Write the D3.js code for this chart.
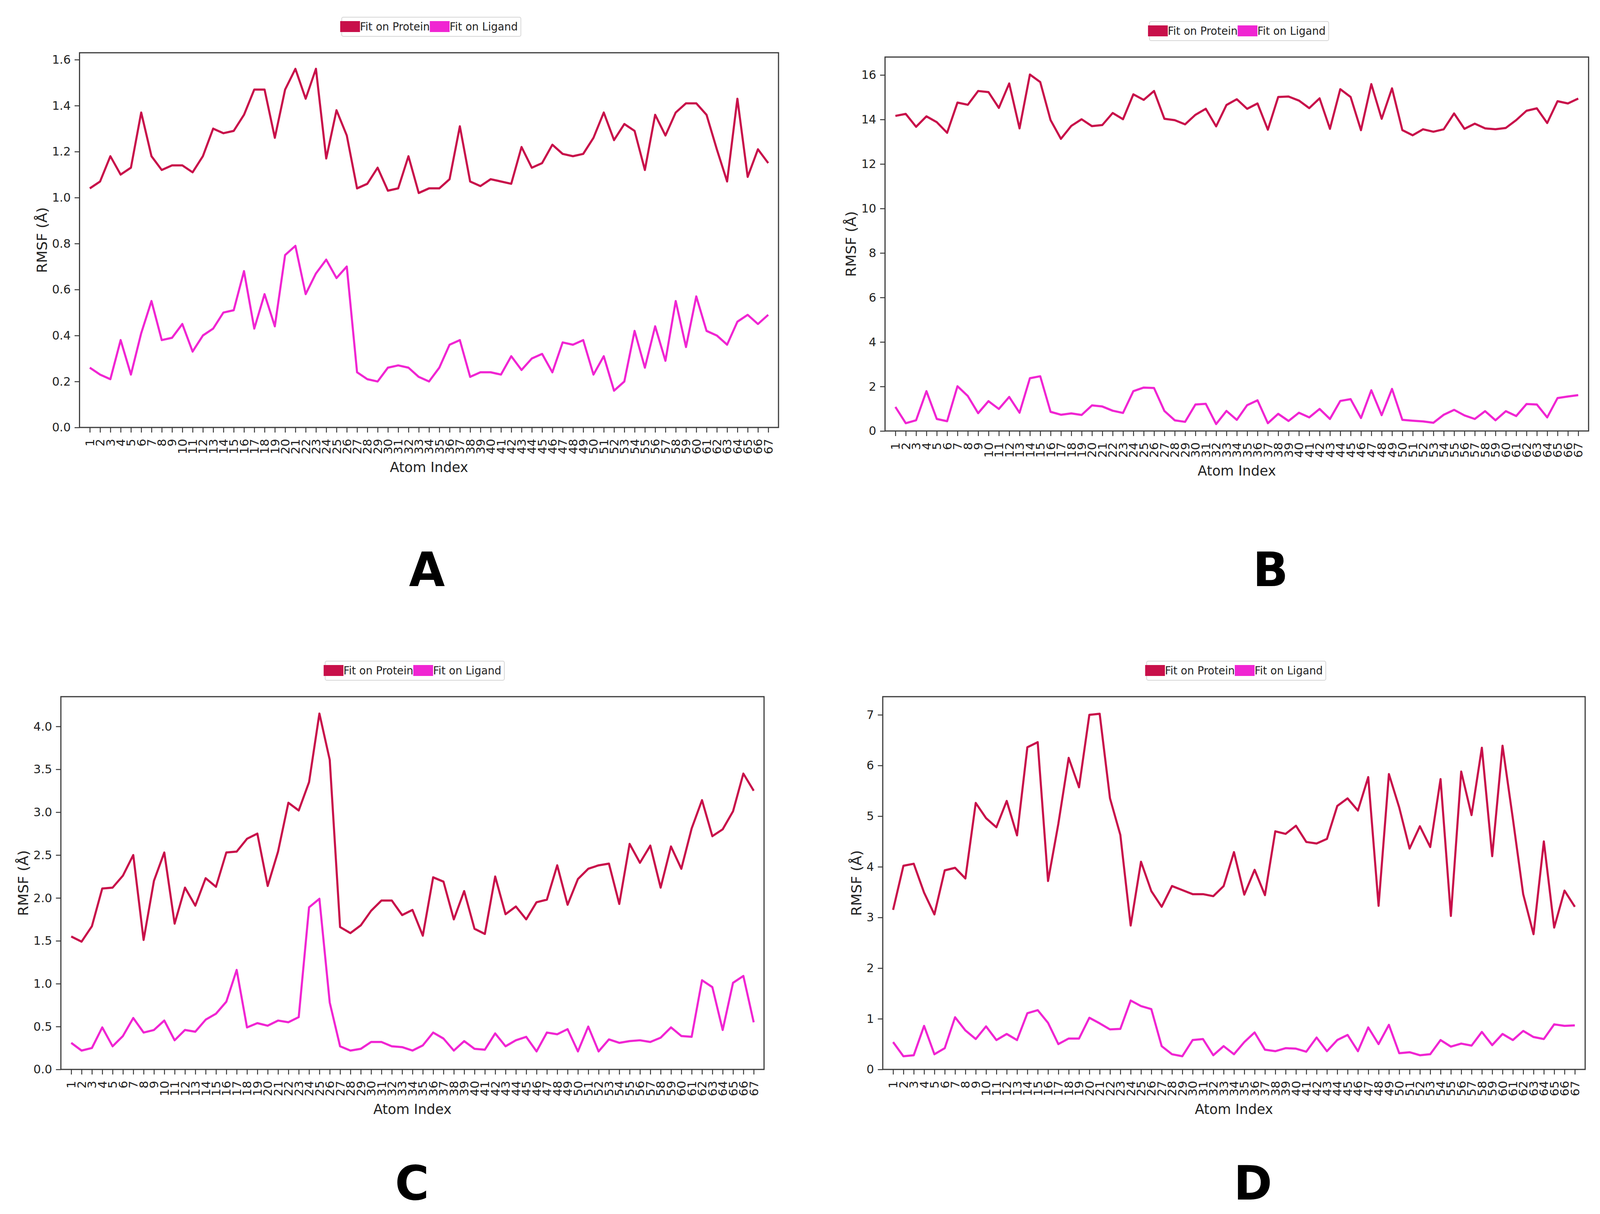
<!DOCTYPE html>
<html>
<head>
<meta charset="utf-8">
<script src="https://cdn.jsdelivr.net/npm/d3@7/dist/d3.min.js"></script>
<style>
  html, body { margin: 0; padding: 0; background: #fff; overflow: hidden; }
  #chart { display: block; width: 100vw; height: 100vh; }
  text { font-family: "DejaVu Sans", sans-serif; fill: #222; }
</style>
</head>
<body>
<svg id="chart"></svg>
<script>
const w = 4205, h = 3107;

const atomIndex = [1,2,3,4,5,6,7,8,9,10,11,12,13,14,15,16,17,18,19,20,21,22,23,24,25,26,27,28,29,30,
  31,32,33,34,35,36,37,38,39,40,41,42,43,44,45,46,47,48,49,50,51,52,53,54,55,56,57,58,59,60,
  61,62,63,64,65,66,67];

const seriesNames = ["Fit on Protein", "Fit on Ligand"];
const seriesColors = ["#C8104A", "#F025D2"];

// panel A
const proteinA = [1.04,1.07,1.18,1.10,1.13,1.37,1.18,1.12,1.14,1.14,1.11,1.18,1.30,1.28,1.29,1.36,1.47,1.47,1.26,1.47,
  1.56,1.43,1.56,1.17,1.38,1.27,1.04,1.06,1.13,1.03,1.04,1.18,1.02,1.04,1.04,1.08,1.31,1.07,1.05,1.08,
  1.07,1.06,1.22,1.13,1.15,1.23,1.19,1.18,1.19,1.26,1.37,1.25,1.32,1.29,1.12,1.36,1.27,1.37,1.41,1.41,
  1.36,1.21,1.07,1.43,1.09,1.21,1.15];
const ligandA = [0.26,0.23,0.21,0.38,0.23,0.41,0.55,0.38,0.39,0.45,0.33,0.40,0.43,0.50,0.51,0.68,0.43,0.58,0.44,0.75,
  0.79,0.58,0.67,0.73,0.65,0.70,0.24,0.21,0.20,0.26,0.27,0.26,0.22,0.20,0.26,0.36,0.38,0.22,0.24,0.24,
  0.23,0.31,0.25,0.30,0.32,0.24,0.37,0.36,0.38,0.23,0.31,0.16,0.20,0.42,0.26,0.44,0.29,0.55,0.35,0.57,
  0.42,0.40,0.36,0.46,0.49,0.45,0.49];
const yTicksA = [0, 0.2, 0.4, 0.6, 0.8, 1.0, 1.2, 1.4, 1.6];

// panel B
const proteinB = [14.16,14.25,13.67,14.14,13.88,13.40,14.76,14.66,15.28,15.23,14.52,15.62,13.60,16.02,15.68,13.97,13.13,13.71,14.01,13.70,
  13.75,14.29,14.01,15.13,14.88,15.28,14.03,13.97,13.78,14.21,14.48,13.69,14.65,14.91,14.48,14.72,13.54,15.01,15.03,14.85,
  14.51,14.95,13.58,15.36,15.01,13.52,15.59,14.03,15.40,13.52,13.29,13.56,13.45,13.56,14.27,13.58,13.81,13.60,13.56,13.62,
  13.97,14.39,14.50,13.84,14.82,14.72,14.94];
const ligandB = [1.08,0.35,0.48,1.79,0.54,0.44,2.01,1.57,0.80,1.34,0.99,1.53,0.82,2.37,2.46,0.86,0.73,0.79,0.72,1.15,
  1.10,0.91,0.81,1.79,1.95,1.93,0.90,0.48,0.41,1.19,1.22,0.31,0.90,0.50,1.16,1.38,0.35,0.77,0.45,0.82,
  0.61,0.99,0.54,1.35,1.43,0.58,1.83,0.71,1.89,0.50,0.46,0.43,0.37,0.73,0.95,0.70,0.54,0.89,0.48,0.89,
  0.67,1.21,1.19,0.61,1.48,1.55,1.61];
const yTicksB = [0, 2, 4, 6, 8, 10, 12, 14, 16];

// panel C
const proteinC = [1.55,1.49,1.67,2.11,2.12,2.26,2.50,1.51,2.20,2.53,1.70,2.12,1.91,2.23,2.13,2.53,2.54,2.69,2.75,2.14,
  2.54,3.11,3.02,3.35,4.15,3.61,1.66,1.59,1.68,1.85,1.97,1.97,1.80,1.86,1.56,2.24,2.19,1.75,2.08,1.64,
  1.58,2.25,1.81,1.90,1.75,1.95,1.98,2.38,1.92,2.22,2.34,2.38,2.40,1.93,2.63,2.41,2.61,2.12,2.60,2.34,
  2.81,3.14,2.72,2.80,3.01,3.45,3.25];
const ligandC = [0.31,0.22,0.25,0.49,0.27,0.39,0.60,0.43,0.46,0.57,0.34,0.46,0.44,0.58,0.65,0.79,1.16,0.49,0.54,0.51,
  0.57,0.55,0.61,1.89,1.99,0.78,0.27,0.22,0.24,0.32,0.32,0.27,0.26,0.22,0.28,0.43,0.36,0.22,0.33,0.24,
  0.23,0.42,0.27,0.34,0.38,0.21,0.43,0.41,0.47,0.21,0.50,0.21,0.35,0.31,0.33,0.34,0.32,0.37,0.49,0.39,
  0.38,1.04,0.96,0.46,1.01,1.09,0.55];
const yTicksC = [0, 0.5, 1.0, 1.5, 2.0, 2.5, 3.0, 3.5, 4.0];

// panel D
const proteinD = [3.15,4.02,4.06,3.49,3.06,3.93,3.98,3.77,5.26,4.96,4.78,5.30,4.62,6.36,6.46,3.72,4.85,6.15,5.57,7.00,
  7.02,5.35,4.63,2.84,4.10,3.52,3.21,3.62,3.54,3.46,3.46,3.42,3.62,4.29,3.45,3.94,3.44,4.70,4.65,4.81,
  4.49,4.46,4.55,5.20,5.35,5.11,5.77,3.23,5.83,5.17,4.36,4.80,4.39,5.73,3.03,5.88,5.02,6.35,4.21,6.39,
  4.95,3.46,2.67,4.50,2.80,3.53,3.21];
const ligandD = [0.54,0.26,0.28,0.86,0.30,0.42,1.03,0.77,0.60,0.85,0.58,0.70,0.58,1.11,1.17,0.92,0.50,0.61,0.61,1.02,
  0.91,0.79,0.80,1.36,1.25,1.19,0.46,0.30,0.26,0.58,0.60,0.28,0.46,0.30,0.54,0.73,0.39,0.36,0.42,0.41,
  0.35,0.63,0.36,0.58,0.68,0.36,0.83,0.50,0.88,0.32,0.34,0.28,0.30,0.58,0.45,0.51,0.47,0.74,0.48,0.70,
  0.58,0.76,0.64,0.60,0.89,0.86,0.87];
const yTicksD = [0, 1, 2, 3, 4, 5, 6, 7];

const panels = [
  { label: "A", series: [proteinA, ligandA], yTicks: yTicksA, fmt: d3.format(".1f"),
    box: { l: 209, r: 2046, t: 135, b: 1094 }, letter: [1122, 1500] },
  { label: "B", series: [proteinB, ligandB], yTicks: yTicksB, fmt: d3.format("d"),
    box: { l: 2326, r: 4175, t: 146, b: 1103 }, letter: [3339, 1500] },
  { label: "C", series: [proteinC, ligandC], yTicks: yTicksC, fmt: d3.format(".1f"),
    box: { l: 160, r: 2008, t: 1783, b: 2737 }, letter: [1083, 3070] },
  { label: "D", series: [proteinD, ligandD], yTicks: yTicksD, fmt: d3.format("d"),
    box: { l: 2320, r: 4166, t: 1783, b: 2737 }, letter: [3293, 3070] }
];

// stretch the drawing to whatever viewport the page gets
const svg = d3.select("#chart")
  .attr("viewBox", [0, 0, w, h])
  .attr("preserveAspectRatio", "none");

svg.append("rect").attr("width", w).attr("height", h).attr("fill", "#fff");

const tickLen = 13, frameColor = "#3a3a3a";

const buildPanel = p => {
  const { l, r, t, b } = p.box;
  const all = p.series.flat();
  const lo = d3.min(all), hi = d3.max(all);

  const x = d3.scaleLinear().domain([0, atomIndex.length + 1]).range([l, r]);
  const y = d3.scaleLinear().domain([0, hi + 0.05 * (hi - lo)]).range([b, t]);

  const g = svg.append("g").attr("class", "panel-" + p.label);

  // lines
  const line = d3.line().x((d, i) => x(atomIndex[i])).y(d => y(d));
  p.series.forEach((s, k) => {
    g.append("path")
      .datum(s)
      .attr("d", line)
      .attr("fill", "none")
      .attr("stroke", seriesColors[k])
      .attr("stroke-width", 5.5)
      .attr("stroke-linejoin", "round");
  });

  // axes
  const xAxis = d3.axisBottom(x).tickValues(atomIndex).tickSize(tickLen);
  const yAxis = d3.axisLeft(y).tickValues(p.yTicks).tickFormat(p.fmt).tickSize(tickLen).tickPadding(10);

  const gx = g.append("g").attr("transform", `translate(0,${b})`).call(xAxis);
  gx.select(".domain").remove();
  gx.selectAll(".tick line").attr("stroke", frameColor).attr("stroke-width", 2.5);
  gx.selectAll(".tick text")
    .attr("font-size", 31)
    .attr("fill", "#222")
    .attr("transform", "rotate(-90)")
    .attr("text-anchor", "end")
    .attr("x", -(tickLen + 16))
    .attr("y", 0)
    .attr("dy", "0.35em");

  const gy = g.append("g").attr("transform", `translate(${l},0)`).call(yAxis);
  gy.select(".domain").remove();
  gy.selectAll(".tick line").attr("stroke", frameColor).attr("stroke-width", 2.5);
  gy.selectAll(".tick text").attr("font-size", 31).attr("fill", "#222");

  let maxW = 0;
  gy.selectAll(".tick text").each(function () {
    maxW = Math.max(maxW, this.getComputedTextLength());
  });

  // frame
  g.append("rect")
    .attr("x", l).attr("y", t)
    .attr("width", r - l).attr("height", b - t)
    .attr("fill", "none")
    .attr("stroke", frameColor)
    .attr("stroke-width", 3);

  // axis titles
  const cx = (l + r) / 2;
  g.append("text")
    .attr("x", cx).attr("y", b + 114)
    .attr("text-anchor", "middle")
    .attr("font-size", 36)
    .text("Atom Index");

  const ty = (t + b) / 2;
  const tx = l - tickLen - 10 - maxW - 14;
  g.append("text")
    .attr("transform", `translate(${tx},${ty}) rotate(-90)`)
    .attr("text-anchor", "middle")
    .attr("font-size", 37)
    .text("RMSF (Å)");

  // legend
  const lg = g.append("g");
  const patchW = 52, patchH = 28, ly = t - 67;
  const texts = seriesNames.map(n => lg.append("text").attr("font-size", 28).text(n));
  const tw = texts.map(s => s.node().getComputedTextLength());
  const total = patchW * 2 + tw[0] + tw[1];
  const x0 = cx - total / 2;
  lg.insert("rect", ":first-child")
    .attr("x", x0 + 4).attr("y", ly - 24)
    .attr("width", total + 4).attr("height", 49)
    .attr("rx", 4)
    .attr("fill", "#fff")
    .attr("stroke", "#d6d6d6")
    .attr("stroke-width", 2);
  let cur = x0;
  seriesNames.forEach((n, k) => {
    lg.append("rect")
      .attr("x", cur).attr("y", ly - patchH / 2)
      .attr("width", patchW).attr("height", patchH)
      .attr("fill", seriesColors[k]);
    texts[k].attr("x", cur + patchW).attr("y", ly + 10);
    cur += patchW + tw[k];
  });

  // panel letter
  svg.append("text")
    .attr("x", p.letter[0]).attr("y", p.letter[1])
    .attr("text-anchor", "middle")
    .attr("font-family", "'Liberation Sans', Arial, sans-serif")
    .attr("font-weight", "bold")
    .attr("font-size", 122)
    .style("fill", "#000")
    .text(p.label);
};

panels.forEach(buildPanel);
</script>
</body>
</html>
